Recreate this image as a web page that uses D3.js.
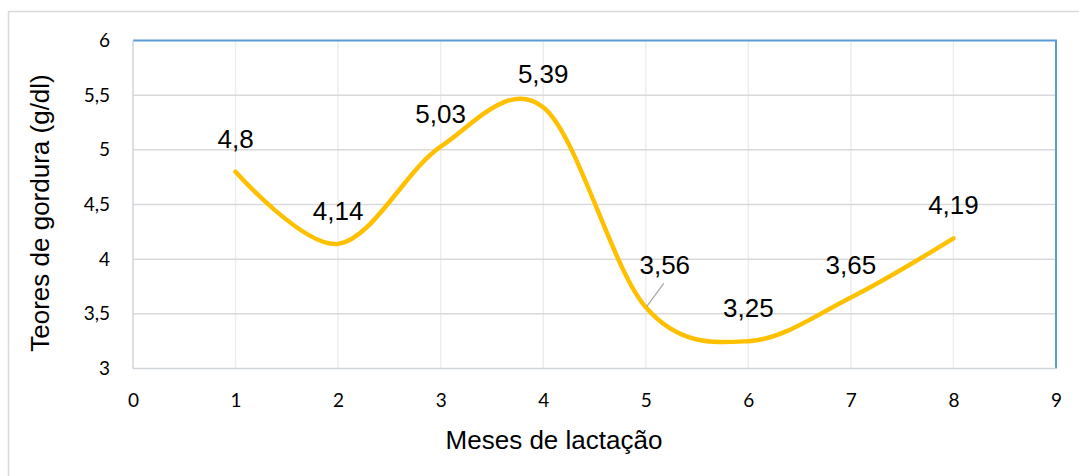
<!DOCTYPE html>
<html>
<head>
<meta charset="utf-8">
<script src="https://cdn.jsdelivr.net/npm/d3@7"></script>
<style>
  html, body { margin: 0; padding: 0; background: #fff; }
  svg { display: block; }
</style>
</head>
<body>
<svg id="chart" width="1079" height="476"></svg>
<script>
// Fat content by month of lactation
const months = [1, 2, 3, 4, 5, 6, 7, 8];
const fatValues = [4.8, 4.14, 5.03, 5.39, 3.56, 3.25, 3.65, 4.19];
const valueLabels = ["4,8", "4,14", "5,03", "5,39", "3,56", "3,25", "3,65", "4,19"];
const xTicks = [0, 1, 2, 3, 4, 5, 6, 7, 8, 9];
const yTicks = [3, 3.5, 4, 4.5, 5, 5.5, 6];
const yTickLabels = ["3", "3,5", "4", "4,5", "5", "5,5", "6"];
const xTitle = "Meses de lactação";
const yTitle = "Teores de gordura (g/dl)";

const svg = d3.select("#chart");
const plot = { left: 133, right: 1056, top: 40.5, bottom: 368.5 };

const x = d3.scaleLinear().domain([0, 9]).range([plot.left, plot.right]);
const y = d3.scaleLinear().domain([3, 6]).range([plot.bottom, plot.top]);

// outer chart frame
svg.append("rect")
  .attr("x", 8.5).attr("y", 11.5)
  .attr("width", 1090).attr("height", 490)
  .attr("fill", "none").attr("stroke", "#D9D9D9").attr("stroke-width", 1.5);

// vertical gridlines
svg.append("g").selectAll("line")
  .data(xTicks.filter(d => d > 0 && d < 9))
  .join("line")
  .attr("x1", d => x(d)).attr("x2", d => x(d))
  .attr("y1", plot.top).attr("y2", plot.bottom)
  .attr("stroke", "#EDEDED").attr("stroke-width", 1.5);

// horizontal gridlines
svg.append("g").selectAll("line")
  .data(yTicks.filter(d => d > 3 && d < 6))
  .join("line")
  .attr("x1", plot.left).attr("x2", plot.right)
  .attr("y1", d => y(d)).attr("y2", d => y(d))
  .attr("stroke", "#D9D9D9").attr("stroke-width", 1.5);

// plot area border: blue top/right, grey axis lines left/bottom
svg.append("line")
  .attr("x1", plot.left).attr("x2", plot.right + 1)
  .attr("y1", plot.top).attr("y2", plot.top)
  .attr("stroke", "#5B9BD5").attr("stroke-width", 2);
svg.append("line")
  .attr("x1", plot.right).attr("x2", plot.right)
  .attr("y1", plot.top).attr("y2", plot.bottom)
  .attr("stroke", "#5B9BD5").attr("stroke-width", 2);
svg.append("line")
  .attr("x1", plot.left).attr("x2", plot.left)
  .attr("y1", plot.top).attr("y2", plot.bottom)
  .attr("stroke", "#D0D5DC").attr("stroke-width", 1.5);
svg.append("line")
  .attr("x1", plot.left).attr("x2", plot.right)
  .attr("y1", plot.bottom).attr("y2", plot.bottom)
  .attr("stroke", "#D0D5DC").attr("stroke-width", 1.5);

// axes (labels only)
const tickFont = "Lato, Carlito, 'Open Sans', sans-serif";
const xAxis = d3.axisBottom(x).tickValues(xTicks).tickSize(0).tickPadding(25)
  .tickFormat(d => String(d));
const gx = svg.append("g").attr("transform", `translate(0,${plot.bottom})`).call(xAxis);
gx.select(".domain").remove();
gx.selectAll("text").attr("font-family", tickFont).attr("font-size", 19).attr("fill", "#000");

const yAxis = d3.axisLeft(y).tickValues(yTicks).tickSize(0).tickPadding(23)
  .tickFormat((d, i) => yTickLabels[i]);
const gy = svg.append("g").attr("transform", `translate(${plot.left},0)`).call(yAxis);
gy.select(".domain").remove();
gy.selectAll("text").attr("font-family", tickFont).attr("font-size", 19).attr("fill", "#000");

// smoothed line
const data = months.map((m, i) => ({ m, v: fatValues[i], label: valueLabels[i] }));
const line = d3.line()
  .x(d => x(d.m)).y(d => y(d.v))
  .curve(d3.curveCardinal.tension(0));
svg.append("path")
  .datum(data)
  .attr("d", line)
  .attr("fill", "none")
  .attr("stroke", "#FFC000")
  .attr("stroke-width", 4.5)
  .attr("stroke-linecap", "round");

// data labels
const labelFont = "'Liberation Sans', Arial, sans-serif";
const movedIndex = 4; // label shifted off the curve with a leader line
const lbl = svg.append("g");
data.forEach((d, i) => {
  const px = x(d.m), py = y(d.v);
  let lx = px, ly = py - 33;
  if (i === movedIndex) {
    lx = px + 19; ly = py - 42;
    lbl.append("line")
      .attr("x1", px + 1).attr("y1", py - 1)
      .attr("x2", px + 18).attr("y2", py - 24)
      .attr("stroke", "#A6A6A6").attr("stroke-width", 1.2);
  }
  lbl.append("text")
    .attr("x", lx).attr("y", ly)
    .attr("dy", "0.35em")
    .attr("text-anchor", "middle")
    .attr("font-family", labelFont)
    .attr("font-size", 26)
    .attr("fill", "#000")
    .text(d.label);
});

// axis titles
svg.append("text")
  .attr("x", 554).attr("y", 440)
  .attr("dy", "0.35em")
  .attr("text-anchor", "middle")
  .attr("font-family", labelFont).attr("font-size", 26).attr("fill", "#000")
  .text(xTitle);
svg.append("text")
  .attr("transform", `translate(40,213) rotate(-90)`)
  .attr("dy", "0.35em")
  .attr("text-anchor", "middle")
  .attr("font-family", labelFont).attr("font-size", 26).attr("fill", "#000")
  .text(yTitle);
</script>
</body>
</html>
